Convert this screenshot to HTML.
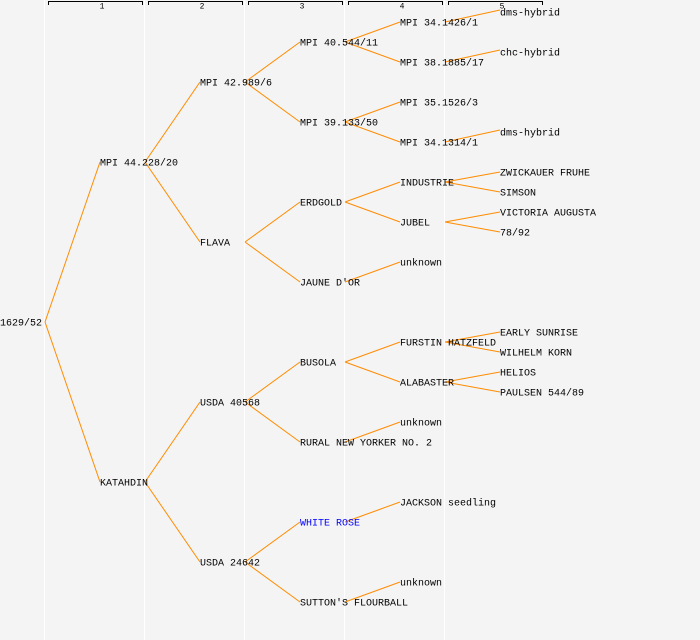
<!DOCTYPE html>
<html><head><meta charset="utf-8"><style>
html,body{margin:0;padding:0;background:#f4f4f4;}
svg{display:block}
text{font-family:"Liberation Mono",monospace;font-size:10px;fill:#000;dominant-baseline:central}
</style></head><body>
<svg width="700" height="640" viewBox="0 0 700 640" xmlns="http://www.w3.org/2000/svg">
<rect width="700" height="640" fill="#f4f4f4"/>
<g stroke="#ffffff" stroke-width="1">
<line x1="44.5" y1="0" x2="44.5" y2="640"/><line x1="144.5" y1="0" x2="144.5" y2="640"/>
<line x1="244.5" y1="0" x2="244.5" y2="640"/><line x1="344.5" y1="0" x2="344.5" y2="640"/>
<line x1="444.5" y1="0" x2="444.5" y2="640"/>
</g>
<g stroke="#000" stroke-width="1" fill="none">
<path d="M48.5,5 V1.5 H142.5 V5"/><path d="M148.5,5 V1.5 H242.5 V5"/><path d="M248.5,5 V1.5 H342.5 V5"/>
<path d="M348.5,5 V1.5 H442.5 V5"/><path d="M448.5,5 V1.5 H542.5 V5"/>
</g>
<text x="102" y="7" text-anchor="middle" style="font-size:8px">1</text>
<text x="202" y="7" text-anchor="middle" style="font-size:8px">2</text>
<text x="302" y="7" text-anchor="middle" style="font-size:8px">3</text>
<text x="402" y="7" text-anchor="middle" style="font-size:8px">4</text>
<text x="502" y="7" text-anchor="middle" style="font-size:8px">5</text>
<g stroke="#ff8c00" stroke-width="1" fill="none">
<line x1="45" y1="322" x2="100" y2="162"/><line x1="45" y1="322" x2="100" y2="482"/>
<line x1="145" y1="162" x2="200" y2="82"/><line x1="145" y1="162" x2="200" y2="242"/>
<line x1="245" y1="82" x2="300" y2="42"/><line x1="245" y1="82" x2="300" y2="122"/>
<line x1="345" y1="42" x2="400" y2="22"/><line x1="345" y1="42" x2="400" y2="62"/>
<line x1="445" y1="22" x2="500" y2="10"/><line x1="445" y1="62" x2="500" y2="50"/>
<line x1="345" y1="122" x2="400" y2="102"/><line x1="345" y1="122" x2="400" y2="142"/>
<line x1="445" y1="142" x2="500" y2="130"/>
<line x1="245" y1="242" x2="300" y2="202"/><line x1="245" y1="242" x2="300" y2="282"/>
<line x1="345" y1="202" x2="400" y2="182"/><line x1="345" y1="202" x2="400" y2="222"/>
<line x1="445" y1="182" x2="500" y2="172"/><line x1="445" y1="182" x2="500" y2="192"/>
<line x1="445" y1="222" x2="500" y2="212"/><line x1="445" y1="222" x2="500" y2="232"/>
<line x1="345" y1="282" x2="400" y2="262"/>
<line x1="145" y1="482" x2="200" y2="402"/><line x1="145" y1="482" x2="200" y2="562"/>
<line x1="245" y1="402" x2="300" y2="362"/><line x1="245" y1="402" x2="300" y2="442"/>
<line x1="345" y1="362" x2="400" y2="342"/><line x1="345" y1="362" x2="400" y2="382"/>
<line x1="445" y1="342" x2="500" y2="332"/><line x1="445" y1="342" x2="500" y2="352"/>
<line x1="445" y1="382" x2="500" y2="372"/><line x1="445" y1="382" x2="500" y2="392"/>
<line x1="345" y1="442" x2="400" y2="422"/>
<line x1="245" y1="562" x2="300" y2="522"/><line x1="245" y1="562" x2="300" y2="602"/>
<line x1="345" y1="522" x2="400" y2="502"/><line x1="345" y1="602" x2="400" y2="582"/>
</g>
<g transform="translate(0,2)">
<text x="0" y="322">1629/52</text>
<text x="100" y="162">MPI 44.228/20</text>
<text x="200" y="82">MPI 42.989/6</text>
<text x="300" y="42">MPI 40.544/11</text>
<text x="400" y="22">MPI 34.1426/1</text>
<text x="500" y="12">dms-hybrid</text>
<text x="400" y="62">MPI 38.1885/17</text>
<text x="500" y="52">chc-hybrid</text>
<text x="300" y="122">MPI 39.133/50</text>
<text x="400" y="102">MPI 35.1526/3</text>
<text x="400" y="142">MPI 34.1314/1</text>
<text x="500" y="132">dms-hybrid</text>
<text x="200" y="242">FLAVA</text>
<text x="300" y="202">ERDGOLD</text>
<text x="400" y="182">INDUSTRIE</text>
<text x="500" y="172">ZWICKAUER FRUHE</text>
<text x="500" y="192">SIMSON</text>
<text x="400" y="222">JUBEL</text>
<text x="500" y="212">VICTORIA AUGUSTA</text>
<text x="500" y="232">78/92</text>
<text x="300" y="282">JAUNE D'OR</text>
<text x="400" y="262">unknown</text>
<text x="100" y="482">KATAHDIN</text>
<text x="200" y="402">USDA 40568</text>
<text x="300" y="362">BUSOLA</text>
<text x="400" y="342">FURSTIN HATZFELD</text>
<text x="500" y="332">EARLY SUNRISE</text>
<text x="500" y="352">WILHELM KORN</text>
<text x="400" y="382">ALABASTER</text>
<text x="500" y="372">HELIOS</text>
<text x="500" y="392">PAULSEN 544/89</text>
<text x="300" y="442">RURAL NEW YORKER NO. 2</text>
<text x="400" y="422">unknown</text>
<text x="200" y="562">USDA 24642</text>
<text x="300" y="522" style="fill:#0000ff">WHITE ROSE</text>
<text x="400" y="502">JACKSON seedling</text>
<text x="300" y="602">SUTTON'S FLOURBALL</text>
<text x="400" y="582">unknown</text>
</g>
</svg>
</body></html>
